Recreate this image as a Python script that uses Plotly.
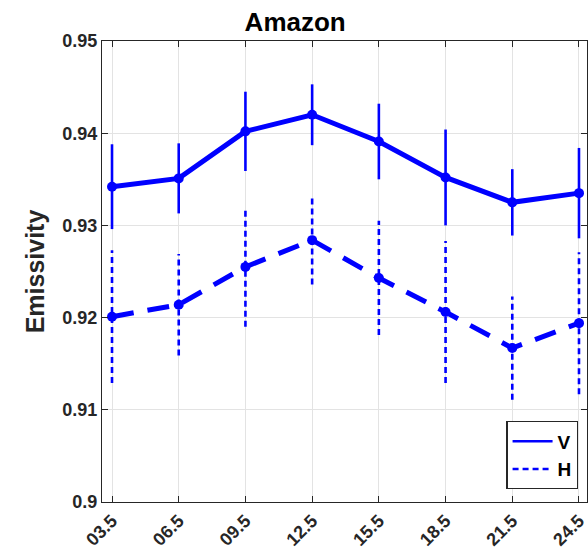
import plotly.graph_objects as go

# Local time of observation (hours) and tick labels
hours = [3.5, 6.5, 9.5, 12.5, 15.5, 18.5, 21.5, 24.5]
hour_labels = ["03.5", "06.5", "09.5", "12.5", "15.5", "18.5", "21.5", "24.5"]

# Mean emissivity and standard deviation, vertical polarisation
v_mean = [0.9342, 0.9351, 0.9402, 0.9420, 0.9391, 0.9352, 0.9325, 0.9335]
v_std = [0.0046, 0.0038, 0.0043, 0.0033, 0.0041, 0.0052, 0.0036, 0.0049]

# Mean emissivity and standard deviation, horizontal polarisation
h_mean = [0.9201, 0.9214, 0.9255, 0.9284, 0.9243, 0.9206, 0.9167, 0.9194]
h_std = [0.0072, 0.0055, 0.0065, 0.0048, 0.0062, 0.0077, 0.0056, 0.0077]

y_ticks = [0.90, 0.91, 0.92, 0.93, 0.94, 0.95]
y_labels = ["0.9", "0.91", "0.92", "0.93", "0.94", "0.95"]

BLUE = "#0000FF"
INK = "#262626"
FONT = "Liberation Sans, Arial, Helvetica, sans-serif"


def bar_segments(xs, means, stds):
    """Vertical error-bar segments separated by gaps."""
    bx, by = [], []
    for x, m, s in zip(xs, means, stds):
        bx += [x, x, None]
        by += [m - s, m + s, None]
    return bx, by


fig = go.Figure()

vx, vy = bar_segments(hours, v_mean, v_std)
hx, hy = bar_segments(hours, h_mean, h_std)

# Error bars (these also carry the legend entries)
fig.add_trace(go.Scatter(x=vx, y=vy, mode="lines", name="V", legendgroup="v",
                         line=dict(color=BLUE, width=2.6),
                         hoverinfo="skip"))
fig.add_trace(go.Scatter(x=hx, y=hy, mode="lines", name="H", legendgroup="h",
                         line=dict(color=BLUE, width=2.6, dash="6px,4px"),
                         hoverinfo="skip"))

# Mean curves
fig.add_trace(go.Scatter(x=hours, y=v_mean, mode="lines+markers",
                         line=dict(color=BLUE, width=5),
                         marker=dict(color=BLUE, size=10),
                         showlegend=False))
fig.add_trace(go.Scatter(x=hours, y=h_mean, mode="lines+markers",
                         line=dict(color=BLUE, width=5, dash="22px,14px"),
                         marker=dict(color=BLUE, size=10),
                         showlegend=False))

axis_common = dict(
    showline=True, linecolor=INK, linewidth=1.3, mirror="ticks",
    ticks="inside", ticklen=6, tickcolor=INK, tickwidth=1.3,
    showgrid=True, gridcolor="#E3E3E3", gridwidth=1,
    zeroline=False, automargin=False,
    tickfont=dict(family=FONT, size=18, color=INK, weight="bold"),
)

fig.update_layout(
    width=588, height=552,
    margin=dict(l=102, r=1, t=41, b=50),
    paper_bgcolor="white", plot_bgcolor="white",
    title=dict(text="<b>Amazon</b>", x=0.502, xanchor="center",
               y=1 - 22 / 552, yanchor="middle",
               font=dict(family=FONT, size=26, color="black")),
    xaxis=dict(range=[3.05, 24.86], tickvals=hours, ticktext=hour_labels,
               tickangle=-45, ticklabeloverflow="allow", **axis_common),
    yaxis=dict(range=[0.9, 0.95], tickvals=y_ticks, ticktext=y_labels,
               title=dict(text="<b>Emissivity</b>", standoff=10,
                          font=dict(family=FONT, size=25, color=INK)),
               **axis_common),
    legend=dict(x=0.982, y=0.028, xanchor="right", yanchor="bottom",
                bgcolor="white", bordercolor=INK, borderwidth=1.3,
                font=dict(family=FONT, size=19, color="black", weight="bold"),
                itemwidth=40, tracegroupgap=0),
    showlegend=True,
)

fig.write_html("out.html")
